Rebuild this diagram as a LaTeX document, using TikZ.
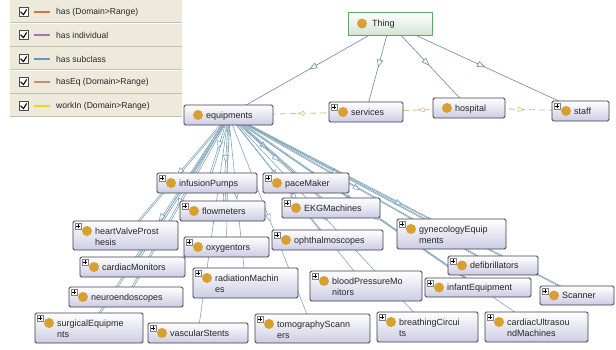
\documentclass[tikz,border=0pt]{standalone}
\usepackage{fontspec}
\setmainfont{Liberation Sans}
\usetikzlibrary{arrows.meta,decorations.markings,backgrounds}
\definecolor{edgecol}{HTML}{6A8A9E}
\definecolor{edgecolb}{HTML}{82A6B8}
\definecolor{eqcol}{HTML}{D4BC8C}
\definecolor{dotcol}{HTML}{D8A030}
\definecolor{boxbot}{HTML}{CCCCE4}
\definecolor{boxdraw}{HTML}{3C3C4C}
\definecolor{thingdraw}{HTML}{5FA86A}
\definecolor{thingbot}{HTML}{D4E4D4}
\definecolor{legbg}{HTML}{EDEADC}
\definecolor{legline}{HTML}{C4C0B0}
\definecolor{hascol}{HTML}{D07838}
\definecolor{indcol}{HTML}{A874B8}
\definecolor{subcol}{HTML}{6496C0}
\definecolor{haseqcol}{HTML}{C8905A}
\definecolor{workcol}{HTML}{F2D028}
\tikzset{
 obox/.style={draw=boxdraw, line width=0.8pt, rounded corners=1.5pt, top color=white, bottom color=boxbot, inner sep=0pt},
 thingbox/.style={draw=thingdraw, line width=0.8pt, top color=white, bottom color=thingbot, inner sep=0pt},
 odot/.style={circle, fill=dotcol, minimum size=10pt, inner sep=0pt},
 otext/.style={font=\fontsize{9}{11}\selectfont, inner sep=0pt, text=black!85},
 legtext/.style={font=\fontsize{8.6}{10}\selectfont, inner sep=0pt, text=black!85, anchor=west},
 pbox/.style={draw=gray, fill=white, minimum size=6pt, inner sep=0pt, line width=0.4pt},
 cbox/.style={draw=black!70, fill=white, minimum size=9pt, inner sep=0pt, line width=0.5pt},
 subedge/.style={draw=edgecol, line width=0.6pt, postaction={decorate}, decoration={markings, mark=at position 0.5 with {\arrow{Triangle[fill=white,length=8pt,width=6pt,line width=0.6pt]}}}},
 subedgeb/.style={draw=edgecolb, line width=0.6pt, postaction={decorate}, decoration={markings, mark=at position 0.5 with {\arrow{Triangle[fill=white,length=8pt,width=6pt,line width=0.6pt]}}}},
 twinedge/.style={draw=edgecolb, line width=0.6pt},
 eqedge/.style={draw=eqcol, line width=0.8pt, dash pattern=on 6pt off 4pt, postaction={decorate}, decoration={markings, mark=at position 0.5 with {\arrow{Triangle[fill=white,length=7pt,width=5pt,line width=0.6pt,sep=0pt]}}}},
}
\newcommand\ontbox[8]{%
 \node[obox, minimum width={#4-#2}, minimum height={#5-#3}] (#1) at ({(#2+#4)/2},{(#3+#5)/2}) {};
 \ifnum#6=1
  \node[pbox] (#1-p) at ({#2+5},{#3+5}) {};
  \draw[line width=0.5pt] ([xshift=1.2pt]#1-p.west) -- ([xshift=-1.2pt]#1-p.east) ([yshift=-1.2pt]#1-p.north) -- ([yshift=1.2pt]#1-p.south);
 \fi
 \if\relax\detokenize{#8}\relax
  \node[odot] (#1-d) at ({#2+14},{(#3+#5)/2}) {};
  \node[otext, anchor=base west] (#1-t) at ({#2+22},{(#3+#5)/2+3.3}) {#7};
 \else
  \node[odot] (#1-d) at ({#2+14},{#3+10}) {};
  \node[otext, anchor=base west] (#1-t) at ({#2+22},{#3+13.3}) {#7};
  \node[otext, anchor=base west] (#1-u) at ({#2+22},{#3+24.8}) {#8};
 \fi
}
\begin{document}
\begin{tikzpicture}[x=1pt,y=-1pt]
\useasboundingbox (0,0) rectangle (616,349);
% Thing
\node[thingbox, minimum width=84pt, minimum height=23pt] (thing) at (390,23.5) {};
\node[odot] (thing-d) at (362,23.5) {};
\node[otext, anchor=base west] (thing-t) at (372,26.8) {Thing};
% first level
\ontbox{equip}{184}{105}{273}{125}{0}{equipments}{}
\ontbox{serv}{329}{102}{403}{122}{1}{services}{}
\ontbox{hosp}{433}{98}{505}{118}{0}{hospital}{}
\ontbox{staff}{552}{101}{609}{121}{1}{staff}{}
% equipments children
\ontbox{infus}{157}{173}{257}{193}{1}{infusionPumps}{}
\ontbox{pace}{263}{173}{349}{193}{1}{paceMaker}{}
\ontbox{ekg}{282}{198}{380}{218}{1}{EKGMachines}{}
\ontbox{flow}{180}{201}{265}{221}{1}{flowmeters}{}
\ontbox{heart}{73}{221}{178}{250}{1}{heartValveProst}{hesis}
\ontbox{oxy}{184}{237}{269}{257}{1}{oxygentors}{}
\ontbox{oph}{272}{230}{383}{250}{1}{ophthalmoscopes}{}
\ontbox{gyn}{397}{219}{506}{249}{1}{gynecologyEquip}{ments}
\ontbox{cmon}{80}{257}{185}{277}{1}{cardiacMonitors}{}
\ontbox{defib}{448}{256}{538}{275}{1}{defibrillators}{}
\ontbox{rad}{193}{268}{298}{298}{1}{radiationMachin}{es}
\ontbox{bp}{310}{271}{422}{301}{1}{bloodPressureMo}{nitors}
\ontbox{infant}{425}{278}{531}{297}{1}{infantEquipment}{}
\ontbox{scan}{540}{286}{614}{305}{1}{Scanner}{}
\ontbox{neuro}{69}{287}{183}{307}{1}{neuroendoscopes}{}
\ontbox{surg}{35}{313}{143}{343}{1}{surgicalEquipme}{nts}
\ontbox{vasc}{148}{323}{248}{343}{1}{vascularStents}{}
\ontbox{tomo}{255}{314}{370}{343}{1}{tomographyScann}{ers}
\ontbox{breath}{377}{312}{478}{342}{1}{breathingCircui}{ts}
\ontbox{cus}{485}{312}{588}{342}{1}{cardiacUltrasou}{ndMachines}
% edges
\begin{scope}[on background layer]
 \foreach \c in {equip,serv,hosp,staff}{\draw[subedge] (thing.center) -- (\c.center);}
 \foreach \c in {infus,pace,ekg,flow,heart,oxy,oph,gyn,cmon,defib,rad,bp,infant,scan,neuro,surg,vasc,tomo,breath,cus}{\draw[subedgeb] (equip.center) -- (\c.center);}
 \foreach \c in {infus,pace,ekg,flow,heart,cmon,neuro,surg,gyn,defib,infant,scan}{\draw[twinedge] ([xshift=2pt]equip.center) -- ([xshift=2pt]\c.center);}
 \draw[eqedge] (serv.center) -- (equip.center);
 \draw[eqedge] (hosp.center) -- (serv.center);
 \draw[eqedge] (hosp.center) -- (staff.center);
\end{scope}
% legend
\foreach \i/\txt/\col in {0/{has (Domain>Range)}/hascol,1/{has individual}/indcol,2/{has subclass}/subcol,3/{hasEq (Domain>Range)}/haseqcol,4/{workIn (Domain>Range)}/workcol}{
 \pgfmathsetmacro\rowtop{23.5*\i}
 \pgfmathsetmacro\rowmid{round(23.5*\i+11.5)}
 \fill[legbg] (10,\rowtop) rectangle (182,\rowtop+22.5);
 \draw[legline, line width=0.8pt] (10,\rowtop+22.8) -- (182,\rowtop+22.8);
 \node[cbox] (cb\i) at (23.5,\rowmid) {};
 \draw[black, line width=1.1pt] ([xshift=1.8pt,yshift=0.3pt]cb\i.west) -- ([yshift=2.2pt]cb\i.south) -- ([xshift=-1.6pt,yshift=-2.2pt]cb\i.north east);
 \draw[\col, line width=2pt] (34,\rowmid) -- (50,\rowmid);
 \node[legtext] (lt\i) at (56,\rowmid) {\txt};
}
\end{tikzpicture}
\end{document}
